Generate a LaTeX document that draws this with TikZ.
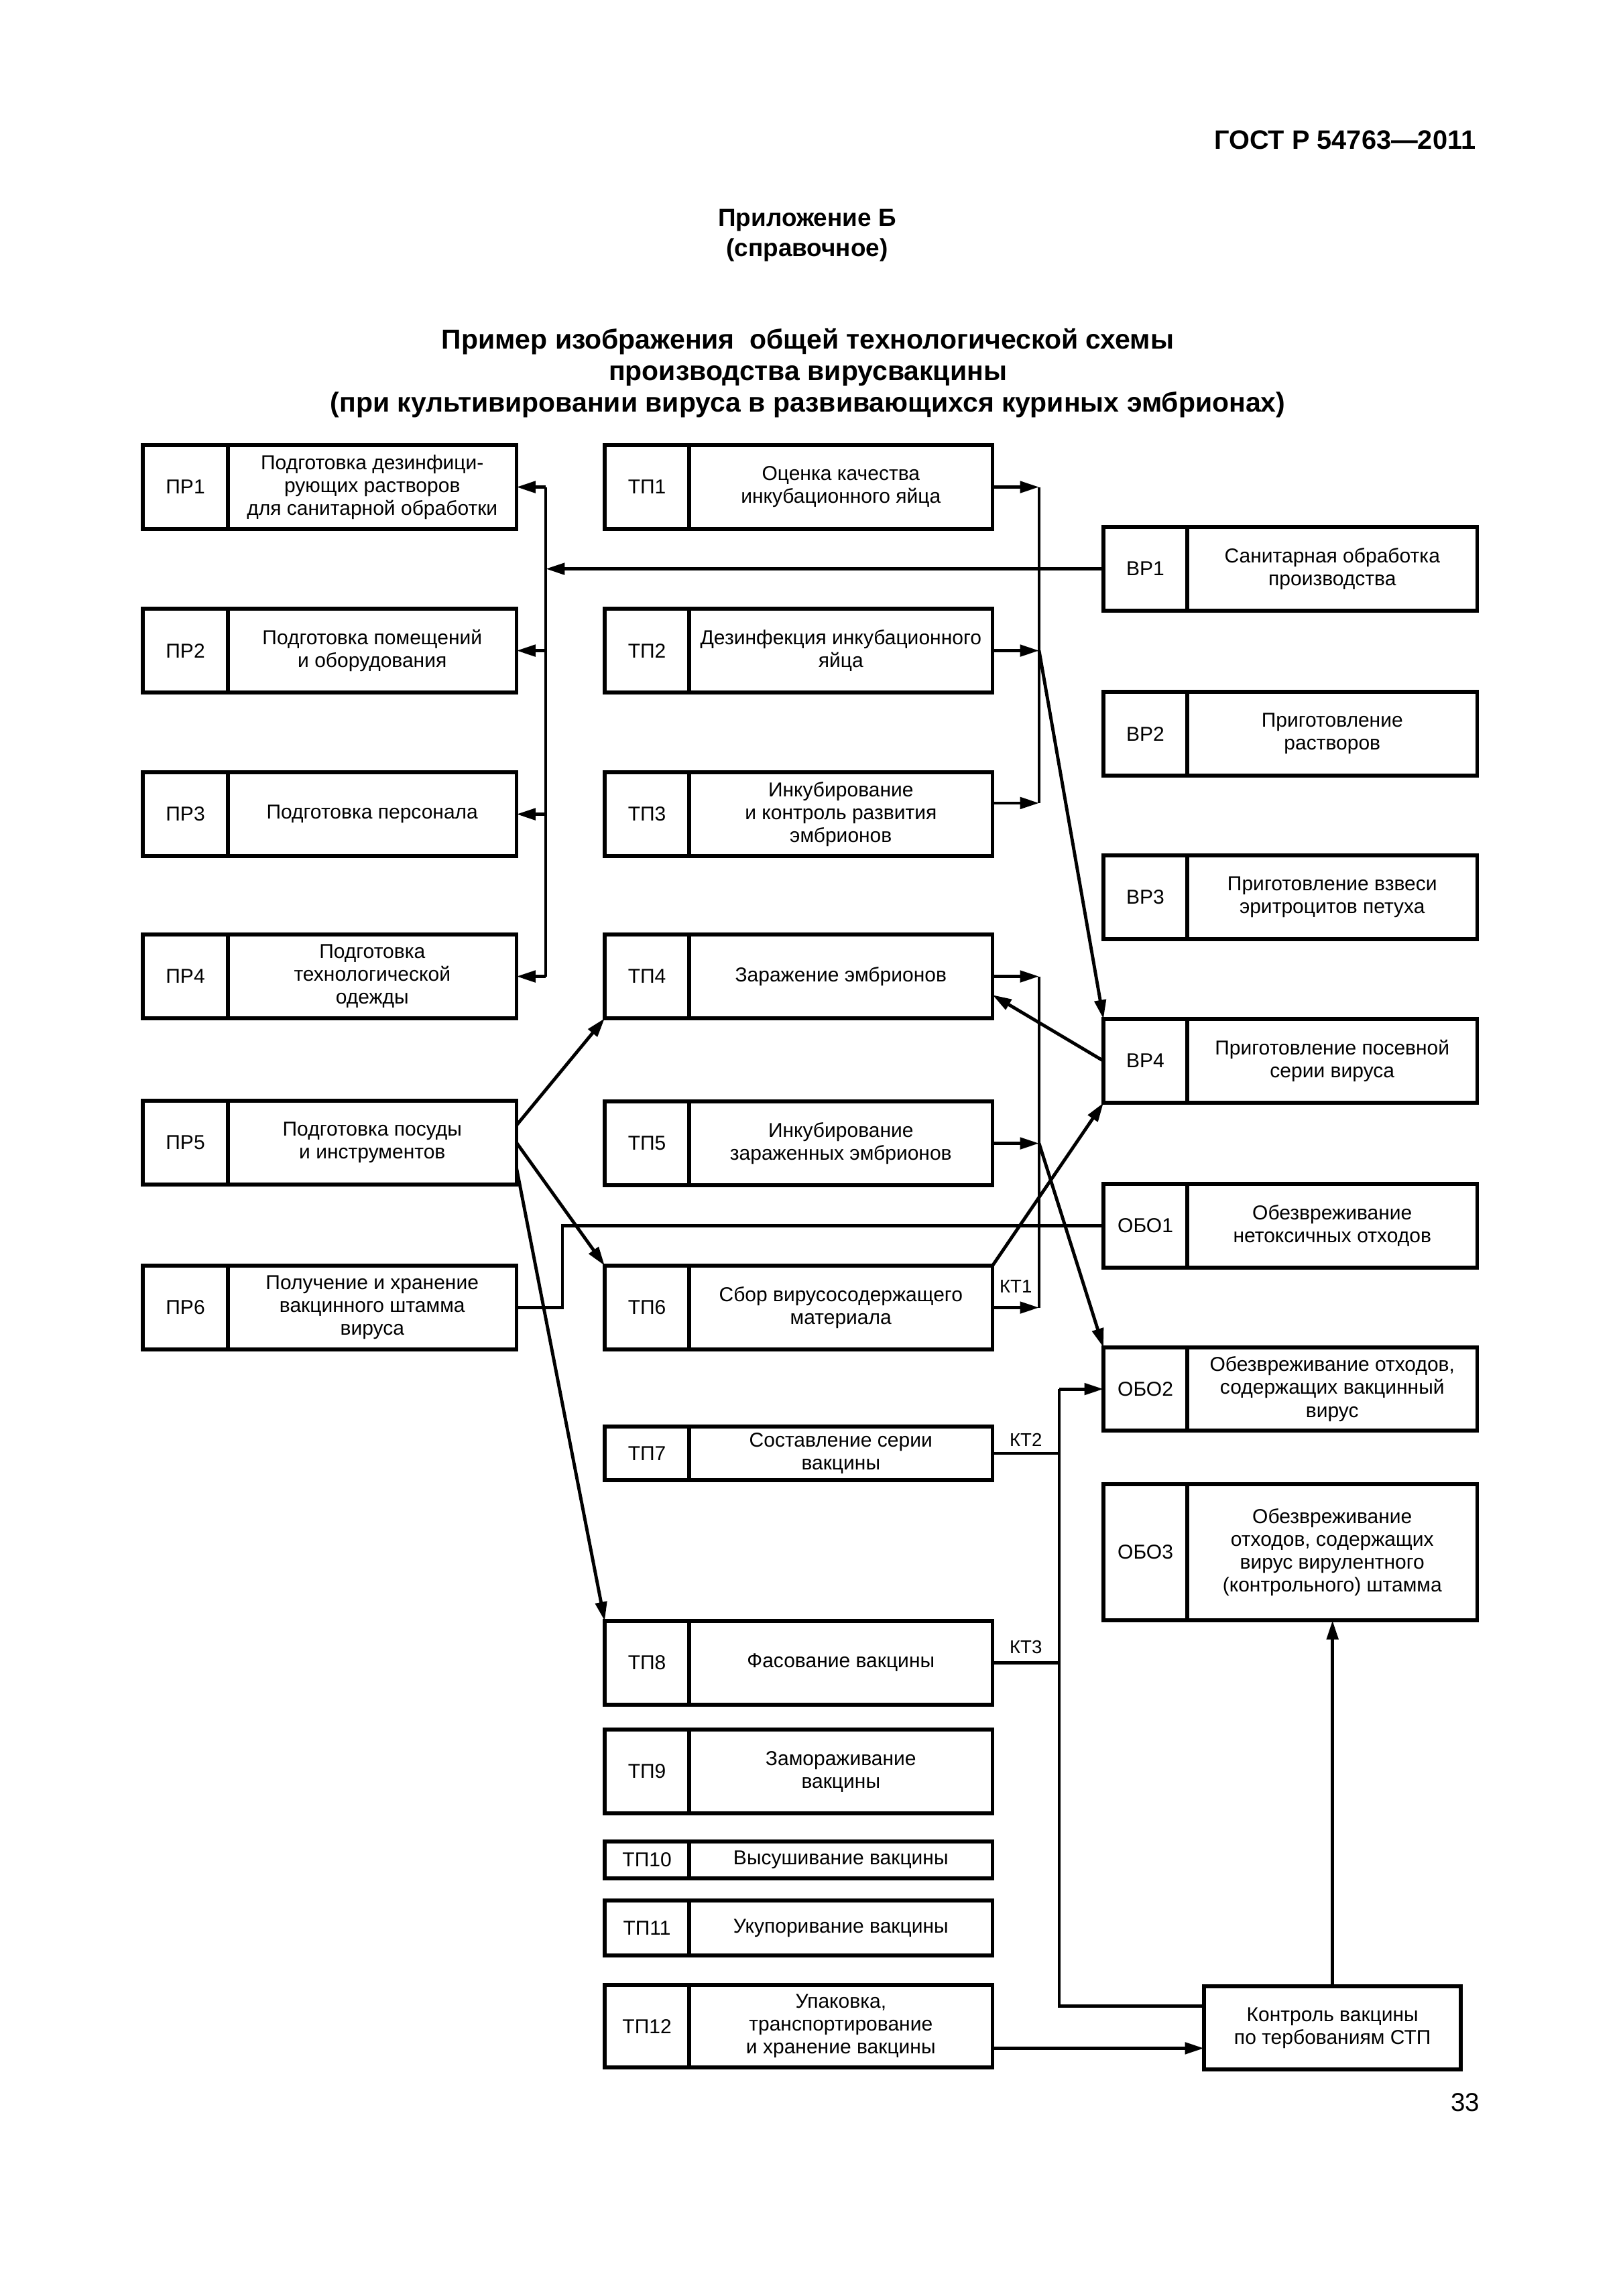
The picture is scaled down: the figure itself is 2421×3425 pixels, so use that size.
\documentclass[tikz,border=0pt]{standalone}
\usepackage{fontspec}
\setmainfont{Liberation Sans}
\usetikzlibrary{arrows.meta,positioning}

% one pixel of the page, as a length
\newcommand\pxl{0.2468pt}

\tikzset{
  cell/.style={draw, line width=1.4pt, inner sep=0pt, outer sep=0pt,
    anchor=north west, align=center, minimum height=125*\pxl,
    font=\fontsize{7.4}{8.4}\selectfont},
  prk/.style={cell, minimum width=127*\pxl},
  prt/.style={cell, minimum width=430*\pxl},
  tpk/.style={cell, minimum width=126*\pxl},
  tpt/.style={cell, minimum width=452*\pxl},
  bpk/.style={cell, minimum width=125*\pxl},
  bpt/.style={cell, minimum width=432*\pxl},
  conn/.style={line width=1.2pt},
  arr/.style={conn, -{Triangle[length=7pt,width=4.2pt]}},
  ktlabel/.style={inner sep=0pt, font=\fontsize{6.8}{8}\selectfont},
  head/.style={inner sep=0pt, anchor=base, font=\bfseries\fontsize{9.1}{11}\selectfont},
  title/.style={inner sep=0pt, anchor=base, font=\bfseries\fontsize{10.1}{12}\selectfont}
}

\begin{document}
\begin{tikzpicture}[x=0.0086741cm, y=-0.0086741cm]
  \useasboundingbox (0,0) rectangle (2421,3425);

  % page head
  \node[inner sep=0pt, anchor=base east, font=\bfseries\fontsize{9.8}{12}\selectfont] (gost) at (2202,222) {ГОСТ Р 54763—2011};
  \node[head] (app) at (1204,337) {Приложение Б};
  \node[head] (appkind) at (1204,382) {(справочное)};
  \node[title] (title1) at (1205,520) {Пример изображения\ \ общей технологической схемы};
  \node[title] (title2) at (1205,567) {производства вирусвакцины};
  \node[title] (title3) at (1205,614) {(при культивировании вируса в развивающихся куриных эмбрионах)};

  % preparatory works
  \node[prk] (pr1k) at (213,664) {ПР1};
  \node[prt] (pr1t) at (pr1k.north east) {Подготовка дезинфици-\\рующих растворов\\для санитарной обработки};
  \node[prk] (pr2k) at (213,908) {ПР2};
  \node[prt] (pr2t) at (pr2k.north east) {Подготовка помещений\\и оборудования};
  \node[prk] (pr3k) at (213,1152) {ПР3};
  \node[prt] (pr3t) at (pr3k.north east) {Подготовка персонала};
  \node[prk] (pr4k) at (213,1394) {ПР4};
  \node[prt] (pr4t) at (pr4k.north east) {Подготовка\\технологической\\одежды};
  \node[prk] (pr5k) at (213,1642) {ПР5};
  \node[prt] (pr5t) at (pr5k.north east) {Подготовка посуды\\и инструментов};
  \node[prk] (pr6k) at (213,1888) {ПР6};
  \node[prt] (pr6t) at (pr6k.north east) {Получение и хранение\\вакцинного штамма\\вируса};

  % technological process
  \node[tpk] (tp1k) at (902,664) {ТП1};
  \node[tpt] (tp1t) at (tp1k.north east) {Оценка качества\\инкубационного яйца};
  \node[tpk] (tp2k) at (902,908) {ТП2};
  \node[tpt] (tp2t) at (tp2k.north east) {Дезинфекция инкубационного\\яйца};
  \node[tpk] (tp3k) at (902,1152) {ТП3};
  \node[tpt] (tp3t) at (tp3k.north east) {Инкубирование\\и контроль развития\\эмбрионов};
  \node[tpk] (tp4k) at (902,1394) {ТП4};
  \node[tpt] (tp4t) at (tp4k.north east) {Заражение эмбрионов};
  \node[tpk] (tp5k) at (902,1643) {ТП5};
  \node[tpt] (tp5t) at (tp5k.north east) {Инкубирование\\зараженных эмбрионов};
  \node[tpk] (tp6k) at (902,1888) {ТП6};
  \node[tpt] (tp6t) at (tp6k.north east) {Сбор вирусосодержащего\\материала};
  \node[tpk, minimum height=80*\pxl] (tp7k) at (902,2128) {ТП7};
  \node[tpt, minimum height=80*\pxl] (tp7t) at (tp7k.north east) {Составление серии\\вакцины};
  \node[tpk] (tp8k) at (902,2418) {ТП8};
  \node[tpt] (tp8t) at (tp8k.north east) {Фасование вакцины};
  \node[tpk] (tp9k) at (902,2580) {ТП9};
  \node[tpt] (tp9t) at (tp9k.north east) {Замораживание\\вакцины};
  \node[tpk, minimum height=55*\pxl] (tp10k) at (902,2747) {ТП10};
  \node[tpt, minimum height=55*\pxl] (tp10t) at (tp10k.north east) {Высушивание вакцины};
  \node[tpk, minimum height=82*\pxl] (tp11k) at (902,2835) {ТП11};
  \node[tpt, minimum height=82*\pxl] (tp11t) at (tp11k.north east) {Укупоривание вакцины};
  \node[tpk, minimum height=123*\pxl] (tp12k) at (902,2961) {ТП12};
  \node[tpt, minimum height=123*\pxl] (tp12t) at (tp12k.north east) {Упаковка,\\транспортирование\\и хранение вакцины};

  % auxiliary works and waste treatment
  \node[bpk] (bp1k) at (1646,786) {ВР1};
  \node[bpt] (bp1t) at (bp1k.north east) {Санитарная обработка\\производства};
  \node[bpk] (bp2k) at (1646,1032) {ВР2};
  \node[bpt] (bp2t) at (bp2k.north east) {Приготовление\\растворов};
  \node[bpk] (bp3k) at (1646,1276) {ВР3};
  \node[bpt] (bp3t) at (bp3k.north east) {Приготовление взвеси\\эритроцитов петуха};
  \node[bpk] (bp4k) at (1646,1520) {ВР4};
  \node[bpt] (bp4t) at (bp4k.north east) {Приготовление посевной\\серии вируса};
  \node[bpk] (obo1k) at (1646,1766) {ОБО1};
  \node[bpt] (obo1t) at (obo1k.north east) {Обезвреживание\\нетоксичных отходов};
  \node[bpk, minimum height=124*\pxl] (obo2k) at (1646,2010) {ОБО2};
  \node[bpt, minimum height=124*\pxl] (obo2t) at (obo2k.north east) {Обезвреживание отходов,\\содержащих вакцинный\\вирус};
  \node[bpk, minimum height=203*\pxl] (obo3k) at (1646,2214) {ОБО3};
  \node[bpt, minimum height=203*\pxl] (obo3t) at (obo3k.north east) {Обезвреживание\\отходов, содержащих\\вирус вирулентного\\(контрольного) штамма};
  \node[cell, minimum width=383*\pxl, minimum height=124*\pxl] (ctrl) at (1796,2963) {Контроль вакцины\\по тербованиям СТП};

  \node[inner sep=0pt, anchor=base east, font=\fontsize{9.5}{11}\selectfont] (page) at (2208,3149) {33};

  % bus lines
  \coordinate (lbus) at (814,0);
  \coordinate (rbus) at (1550,0);
  \coordinate (kbus) at (1580,0);
  \coordinate (pr6bend) at (839,0);

  % sanitary treatment to the preparatory works
  \draw[conn] (lbus |- pr1t.east) -- (lbus |- pr4t.east);
  \foreach \n in {pr1t,pr2t,pr3t,pr4t}
    \draw[arr] (lbus |- \n.east) -- (\n.east);
  \draw[arr] (bp1k.west) -- (lbus |- bp1k.west);

  % egg preparation to the seed virus
  \coordinate (tp3out) at ([yshift=4.1pt]tp3t.east);
  \draw[conn] (rbus |- tp1t.east) -- (rbus |- tp3out);
  \draw[arr] (tp1t.east) -- (rbus |- tp1t.east);
  \draw[arr] (tp2t.east) -- (rbus |- tp2t.east);
  \draw[arr] (tp3out) -- (rbus |- tp3out);
  \draw[arr] (rbus |- tp2t.east) -- (bp4k.north west);

  % infected embryos to the waste
  \draw[conn] (rbus |- tp4t.east) -- (rbus |- tp6t.east);
  \draw[arr] (tp4t.east) -- (rbus |- tp4t.east);
  \draw[arr] (tp5t.east) -- (rbus |- tp5t.east);
  \draw[arr] (tp6t.east) -- node[ktlabel, above=4.9pt] {КТ1} (rbus |- tp6t.east);
  \draw[arr] (rbus |- tp5t.east) -- (obo2k.north west);

  \draw[arr] (bp4k.west) -- ([yshift=-6.8pt]tp4t.east);
  \draw[arr] (tp6t.north east) -- (bp4k.south west);

  % glassware
  \draw[arr] ([yshift=6.4pt]pr5t.east) -- (tp4k.south west);
  \draw[arr] (pr5t.east) -- (tp6k.north west);
  \draw[arr] ([yshift=-9.3pt]pr5t.east) -- (tp8k.north west);

  % vaccine strain
  \draw[conn] (pr6t.east) -- (pr6bend |- pr6t.east) -- (pr6bend |- obo1k.west) -- (obo1k.west);

  % control points
  \coordinate (ctrlin) at ([yshift=8.1pt]ctrl.west);
  \draw[arr] (kbus |- obo2k.west) -- (obo2k.west);
  \draw[conn] (kbus |- obo2k.west) -- (kbus |- ctrlin) -- (ctrlin);
  \draw[conn] (tp7t.east) -- node[ktlabel, above=2.1pt] {КТ2} (kbus |- tp7t.east);
  \draw[conn] (tp8t.east) -- node[ktlabel, above=2.7pt] {КТ3} (kbus |- tp8t.east);

  \coordinate (tp12out) at ([yshift=-8.1pt]tp12t.east);
  \draw[arr] (tp12out) -- (tp12out -| ctrl.west);
  \draw[arr] (ctrl.north) -- (ctrl.north |- obo3t.south);
\end{tikzpicture}
\end{document}
